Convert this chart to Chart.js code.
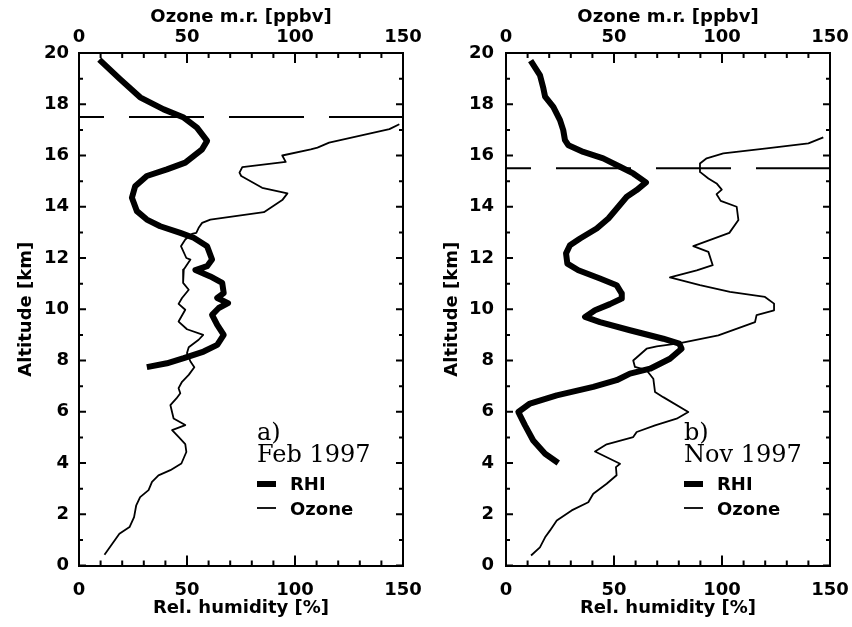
<!DOCTYPE html>
<html><head><meta charset="utf-8">
<script src="https://cdn.jsdelivr.net/npm/chart.js@4"></script>
<style>
html,body{margin:0;padding:0;background:#fff;}
#wrap{position:relative;width:852px;height:627px;background:#fff;}
canvas{position:absolute;top:0;}
</style></head><body>
<div id="wrap">
<canvas id="ca" width="426" height="627" style="left:0;width:426px;height:627px"></canvas>
<canvas id="cb" width="426" height="627" style="left:426px;width:426px;height:627px"></canvas>
</div>
<script>
// ---------- Data ----------
const rhTicks = [0, 50, 100, 150];
const altTicks = [0, 2, 4, 6, 8, 10, 12, 14, 16, 18, 20];

// Panel a) Feb 1997
const rhiAltA = [19.74,18.98,18.27,17.8,17.48,17.09,16.57,16.24,15.72,15.46,15.2,14.8,14.35,13.83,13.5,13.24,12.98,12.79,12.46,11.94,11.68,11.53,11.28,11.03,10.63,10.44,10.24,10.05,9.78,9.39,9.0,8.61,8.35,8.09,7.89,7.74];
const rhiValA = [9.4,19,28.3,39.2,48.5,54.6,59.3,57,49.2,40.7,31.4,26,24.5,26.8,31.4,37.6,46.9,53.1,59.3,61.6,59.3,53.9,60.8,66.3,67,64,69,64.7,61.6,64,67,64,57.7,48.5,40.7,31.4];
const ozAltA = [17.22,17.03,16.5,16.31,16.24,16.0,15.75,15.55,15.33,15.2,14.74,14.52,14.26,13.79,13.5,13.37,13.18,12.98,12.94,12.72,12.46,12.0,11.94,11.55,11.03,10.76,10.44,10.21,9.98,9.52,9.22,9.0,8.81,8.52,8.29,7.96,7.74,7.44,7.17,6.92,6.72,6.52,6.26,5.74,5.48,5.28,5.02,4.74,4.43,3.98,3.72,3.52,3.26,2.94,2.67,2.35,1.89,1.5,1.24,0.91,0.42];
const ozValA = [148.3,143.7,115.8,110.4,107.3,94.1,95.7,75.6,74.3,75.1,84.8,96.5,94.1,85.6,60.8,57,55.4,54.3,52.3,49.2,47.2,49.7,51.6,48.5,48.2,50.8,47.7,46.1,49.2,46.1,50,57.5,55.4,50.8,50,51.6,53.4,50.8,47.7,46.1,46.9,45.1,42.3,43.8,49.2,43.1,46.1,49.2,49.7,47.4,42.3,36.8,33.8,32.2,28.3,26.5,25.5,23.4,18.7,15.9,11.8];
const tropoA = 17.5;

// Panel b) Nov 1997
const rhiAltB = [19.7,19.14,18.62,18.3,17.9,17.38,16.99,16.6,16.4,16.14,15.89,15.56,15.3,14.95,14.65,14.39,14.0,13.54,13.15,12.76,12.5,12.18,11.78,11.52,11.2,10.94,10.61,10.42,10.2,9.96,9.7,9.5,9.18,8.85,8.66,8.46,8.07,7.68,7.49,7.23,6.97,6.64,6.32,5.99,5.47,4.88,4.36,4.0];
const rhiValB = [11.4,15.7,17.3,18.1,21.9,25,26.5,27.3,28.9,35.8,45,52.8,58.9,64.8,60.5,55.9,52,47.4,42,34.3,29.6,27.8,28.4,33.5,43.5,51.2,53.6,53.6,48.1,41.2,36.6,43.5,57.4,72.8,80.2,81.3,75.9,66.7,57.4,51.2,40.4,23.5,11.1,5.7,8.8,12.6,18.1,24.2];
const ozAltB = [16.71,16.47,16.28,16.08,15.89,15.69,15.36,15.1,14.91,14.67,14.49,14.23,14.0,13.48,12.98,12.46,12.24,11.72,11.52,11.24,10.94,10.68,10.48,10.22,9.96,9.77,9.5,8.98,8.68,8.55,8.46,8.0,7.75,7.62,7.29,6.77,6.57,5.99,5.73,5.47,5.21,5.01,4.73,4.45,3.97,3.84,3.52,3.19,2.8,2.47,2.15,1.76,1.37,1.1,0.71,0.39];
const ozValB = [146.9,140,120.7,100.6,92.9,89.8,89.8,93.7,97.5,99.9,97.5,99.4,106.8,107.6,103.4,86.7,93.7,95.7,88.3,75.9,89.8,103.7,119.9,124.1,124.1,116,115.3,98.3,80.6,69.8,65.1,58.9,59.7,65.1,68.2,69,72.8,84.4,79,69,60.5,58.9,46.6,41.2,52.8,50.9,51.2,46.6,40.4,38.1,30.4,23.5,20.4,18.1,15.7,11.6];
const tropoB = 15.5;

// ---------- Helpers ----------
const pts = (alt, val) => alt.map((a, i) => ({x: val[i], y: a}));
const AX_FONT = {family: 'DejaVu Sans', weight: 'bold', size: 18};
const BOT_TICK_FONT = {family: 'DejaVu Sans', weight: 'bold', size: 18, lineHeight: 2.5};
const TOP_TICK_FONT = {family: 'DejaVu Sans', weight: 'bold', size: 18, lineHeight: 1.5};

const decoPlugin = {
  id: 'deco',
  afterDraw(chart, args, opts) {
    const ctx = chart.ctx, ca = chart.chartArea;
    const sx = chart.scales.x, sy = chart.scales.y;
    ctx.save();
    ctx.strokeStyle = '#000';
    ctx.lineWidth = 2;
    ctx.lineCap = 'butt';
    // right frame
    ctx.beginPath(); ctx.moveTo(ca.right, ca.top - 1); ctx.lineTo(ca.right, ca.bottom + 1); ctx.stroke();
    ctx.beginPath();
    for (let v = 0; v <= 150; v += 10) {
      const px = sx.getPixelForValue(v);
      const L = (v % 50 === 0) ? 10 : 5;
      ctx.moveTo(px, ca.bottom); ctx.lineTo(px, ca.bottom - L);
      ctx.moveTo(px, ca.top); ctx.lineTo(px, ca.top + L);
    }
    for (let v = 0; v <= 20; v += 1) {
      const py = sy.getPixelForValue(v);
      const L = (v % 2 === 0) ? 7 : 4;
      ctx.moveTo(ca.left, py); ctx.lineTo(ca.left + L, py);
      ctx.moveTo(ca.right, py); ctx.lineTo(ca.right - L, py);
    }
    ctx.stroke();
    // legend block
    const lx = ca.left + 178;
    ctx.fillStyle = '#000';
    ctx.textAlign = 'left';
    ctx.textBaseline = 'alphabetic';
    ctx.font = '24px "DejaVu Serif"';
    ctx.fillText(opts.tag, lx, 440);
    ctx.fillText(opts.date, lx, 462);
    ctx.lineWidth = 6;
    ctx.beginPath(); ctx.moveTo(lx, 484); ctx.lineTo(lx + 19, 484); ctx.stroke();
    ctx.lineWidth = 1.8;
    ctx.beginPath(); ctx.moveTo(lx, 508); ctx.lineTo(lx + 19, 508); ctx.stroke();
    ctx.font = 'bold 18px "DejaVu Sans"';
    ctx.fillText('RHI', lx + 33, 490);
    ctx.fillText('Ozone', lx + 33, 515);
    ctx.restore();
  }
};

function makePanel(id, rhiAlt, rhiVal, ozAlt, ozVal, tropo, tag, date, leftW, rightW, ylabPad) {
  return new Chart(document.getElementById(id), {
    type: 'scatter',
    data: {
      datasets: [
        {label: 'Tropopause', data: [{x: 0, y: tropo}, {x: 150, y: tropo}], xAxisID: 'x', yAxisID: 'y',
         showLine: true, borderColor: '#000', borderWidth: 2, borderDash: [75, 25], borderDashOffset: 50,
         pointRadius: 0, fill: false},
        {label: 'RHI', data: pts(rhiAlt, rhiVal), xAxisID: 'x', yAxisID: 'y',
         showLine: true, borderColor: '#000', borderWidth: 6, borderJoinStyle: 'round', borderCapStyle: 'butt',
         pointRadius: 0, fill: false, tension: 0},
        {label: 'Ozone', data: pts(ozAlt, ozVal), xAxisID: 'x2', yAxisID: 'y',
         showLine: true, borderColor: '#000', borderWidth: 1.8, borderJoinStyle: 'round',
         pointRadius: 0, fill: false, tension: 0}
      ]
    },
    options: {
      responsive: false, animation: false, devicePixelRatio: 1,
      layout: {padding: 0},
      plugins: {legend: {display: false}, tooltip: {enabled: false}, deco: {tag, date}},
      events: [],
      scales: {
        x: {type: 'linear', position: 'bottom', min: 0, max: 150,
            afterBuildTicks: s => { s.ticks = rhTicks.map(v => ({value: v})); },
            ticks: {font: BOT_TICK_FONT, color: '#000', padding: 2, maxRotation: 0, autoSkip: false},
            grid: {drawOnChartArea: false, drawTicks: false},
            border: {display: true, width: 2, color: '#000'},
            title: {display: true, text: 'Rel. humidity [%]', font: AX_FONT, color: '#000', padding: {top: 0, bottom: 8}},
            afterFit: s => { s.height = 61.5; }},
        x2: {type: 'linear', position: 'top', min: 0, max: 150,
            afterBuildTicks: s => { s.ticks = rhTicks.map(v => ({value: v})); },
            ticks: {font: TOP_TICK_FONT, color: '#000', padding: 2, maxRotation: 0, autoSkip: false},
            grid: {drawOnChartArea: false, drawTicks: false},
            border: {display: true, width: 2, color: '#000'},
            title: {display: true, text: 'Ozone m.r. [ppbv]', font: AX_FONT, color: '#000', padding: {top: 7, bottom: 0}},
            afterFit: s => { s.height = 53; }},
        y: {type: 'linear', position: 'left', min: 0, max: 20,
            afterBuildTicks: s => { s.ticks = altTicks.map(v => ({value: v})); },
            ticks: {font: AX_FONT, color: '#000', padding: ylabPad, autoSkip: false},
            grid: {drawOnChartArea: false, drawTicks: false},
            border: {display: true, width: 2, color: '#000'},
            title: {display: true, text: 'Altitude [km]', font: AX_FONT, color: '#000', padding: {top: 16, bottom: 0}},
            afterFit: s => { s.width = leftW; }},
        y2: {type: 'linear', position: 'right', min: 0, max: 20,
            ticks: {display: false},
            grid: {display: false, drawOnChartArea: false, drawTicks: false},
            border: {display: false},
            afterFit: s => { s.width = rightW; }}
      }
    },
    plugins: [decoPlugin]
  });
}

makePanel('ca', rhiAltA, rhiValA, ozAltA, ozValA, tropoA, 'a)', 'Feb 1997', 79, 23, 10);
makePanel('cb', rhiAltB, rhiValB, ozAltB, ozValB, tropoB, 'b)', 'Nov 1997', 80, 22, 12);
</script>
</body></html>
